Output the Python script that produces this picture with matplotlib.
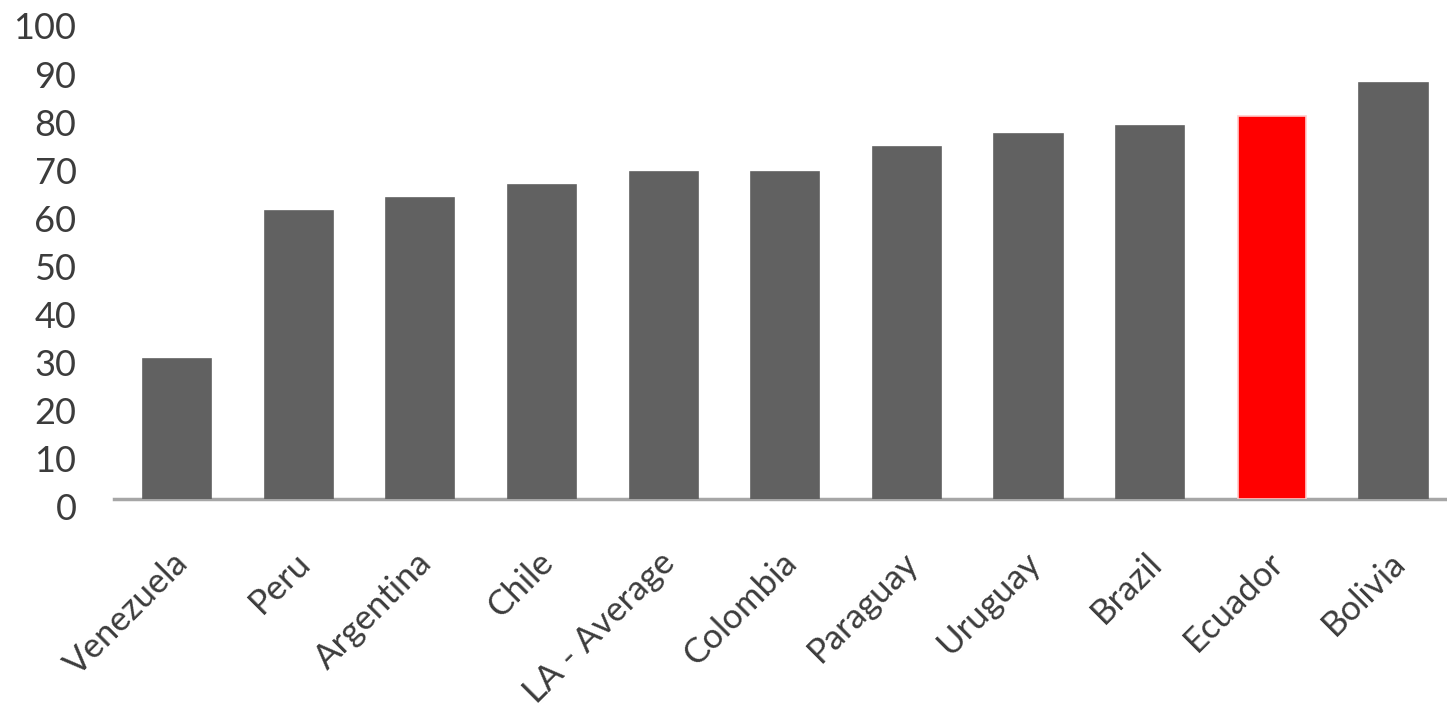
#!/usr/bin/env python
# -*- coding: utf-8 -*-

import matplotlib
matplotlib.use('Agg')
import matplotlib.pyplot as plt
from matplotlib.transforms import ScaledTranslation


countries = ['Venezuela', 'Peru', 'Argentina', 'Chile', 'LA - Average', 'Colombia',
             'Paraguay', 'Uruguay', 'Brazil', 'Ecuador', 'Bolivia']
values = [29.1, 59.9, 62.6, 65.3, 68.0, 68.0, 73.2, 75.9, 77.5, 79.6, 86.5]
highlight = 'Ecuador'
y_ticks = list(range(0, 101, 10))

plt.rcParams['font.family'] = ['Lato', 'DejaVu Sans']

fig = plt.figure(figsize=(14.47, 7.08), dpi=100)
ax = fig.add_axes([0.0788, 0.2952, 0.9212, 0.6794])

x = list(range(len(countries)))
colors = ['#ff0000' if c == highlight else '#616161' for c in countries]
edges = ['#ffcccc' if c == highlight else '#616161' for c in countries]
ax.bar(x, values, width=0.56, color=colors, edgecolor=edges, linewidth=1.2, zorder=3)

ax.set_xlim(-0.518, 10.44)
ax.set_ylim(0, 100)
ax.set_yticks(y_ticks)
ax.set_xticks(x)
ax.set_xticklabels(countries)

for side in ['top', 'right', 'left']:
    ax.spines[side].set_visible(False)
ax.spines['bottom'].set_color('#a6a6a6')
ax.spines['bottom'].set_linewidth(2.5)
ax.spines['bottom'].set_zorder(2)

ax.tick_params(axis='y', length=0, pad=27, labelsize=26, labelcolor='#3c3c3c')
ax.tick_params(axis='x', length=0, pad=34, labelsize=25, labelcolor='#3c3c3c')

# y labels sit a little below their tick values
for lab in ax.get_yticklabels():
    lab.set_transform(lab.get_transform() + ScaledTranslation(0, -0.08, fig.dpi_scale_trans))

for lab in ax.get_xticklabels():
    lab.set_rotation(45)
    lab.set_ha('right')
    lab.set_va('top')
    lab.set_rotation_mode('anchor')
    lab.set_transform(lab.get_transform() + ScaledTranslation(-0.05, 0, fig.dpi_scale_trans))

fig.savefig('out.png', dpi=100)
